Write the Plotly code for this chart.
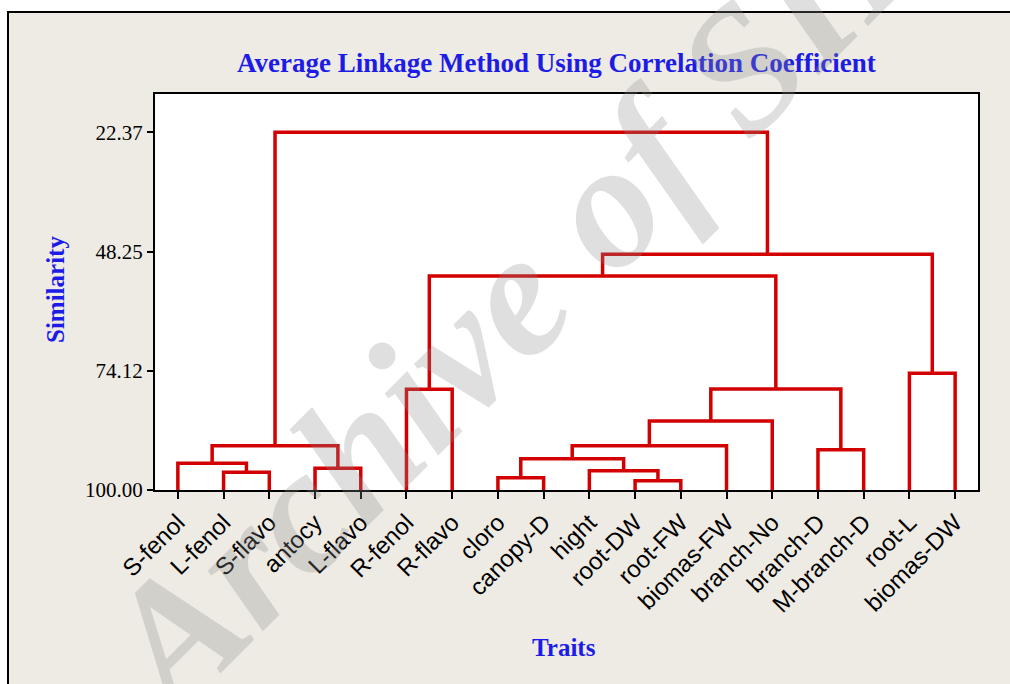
import plotly.graph_objects as go

# ---------------- data ----------------
leaf_labels = ["S-fenol", "L-fenol", "S-flavo", "antocy", "L-flavo", "R-fenol",
               "R-flavo", "cloro", "canopy-D", "hight", "root-DW", "root-FW",
               "biomas-FW", "branch-No", "branch-D", "M-branch-D", "root-L", "biomas-DW"]
# merge steps: node ids 0..17 are leaves, 18.. are merged clusters (in order)
merge_a = [1, 0, 3, 19, 5, 10, 9, 7, 25, 26, 27, 14, 28, 22, 16, 31, 21]
merge_b = [2, 18, 4, 20, 6, 11, 23, 8, 24, 12, 13, 15, 29, 30, 17, 32, 33]
merge_sim = [96.15, 94.20, 95.29, 90.38, 78.14, 97.98, 95.81, 97.33, 93.20,
             90.38, 85.02, 91.25, 78.10, 53.56, 74.67, 48.85, 22.37]
leaf_sim = 100.0
y_ticks = [22.37, 48.25, 74.12, 100.00]
y_ticktext = ["22.37", "48.25", "74.12", "100.00"]

# ---------------- dendrogram geometry from linkage ----------------
n = len(leaf_labels)
node_x = {i: float(i) for i in range(n)}
node_y = {i: leaf_sim for i in range(n)}
xs, ys = [], []
for k, (a, b, h) in enumerate(zip(merge_a, merge_b, merge_sim)):
    node = n + k
    xa, xb = node_x[a], node_x[b]
    xs += [xa, xa, xb, xb, None]
    ys += [node_y[a], h, h, node_y[b], None]
    node_x[node] = (xa + xb) / 2
    node_y[node] = h

# ---------------- layout helpers ----------------
W, H = 1010, 684
L, R, T, B = 155, 978, 94, 490


def px(x):
    return (x - L) / (R - L)


def py(y):
    return (B - y) / (B - T)


BLUE = "#1c1ce6"
BEIGE = "#eeeae4"

fig = go.Figure()
fig.add_trace(go.Scatter(x=xs, y=ys, mode="lines",
                         line=dict(color="#d20000", width=3.5),
                         hoverinfo="skip", showlegend=False))

shapes = [
    dict(type="rect", xref="paper", yref="paper", layer="below",
         x0=px(8), x1=px(1030), y0=py(700), y1=py(12),
         fillcolor=BEIGE, line=dict(color="black", width=2)),
    dict(type="rect", xref="paper", yref="paper", layer="below",
         x0=0, x1=1, y0=0, y1=1, fillcolor="white", line=dict(width=0)),
]

annotations = [
    dict(text="<b>Average Linkage Method Using Correlation Coefficient</b>",
         xref="paper", yref="paper", x=px(556), y=py(63),
         xanchor="center", yanchor="middle", showarrow=False,
         font=dict(family="Liberation Serif", size=27, color=BLUE)),
    dict(text="<b>Traits</b>", xref="paper", yref="paper", x=px(564), y=py(647),
         xanchor="center", yanchor="middle", showarrow=False,
         font=dict(family="Liberation Serif", size=25, color=BLUE)),
    dict(text="<b>Similarity</b>", xref="paper", yref="paper", x=px(55), y=py(290),
         xanchor="center", yanchor="middle", showarrow=False, textangle=-90,
         font=dict(family="Liberation Serif", size=25, color=BLUE)),
    # watermark
    dict(text="Archive of SID", xref="paper", yref="paper",
         x=px(522), y=py(287), xanchor="center", yanchor="middle",
         showarrow=False, textangle=-45,
         font=dict(family="Liberation Serif, DejaVu Serif, serif", size=178,
                   style="italic", weight="bold",
                   color="rgba(140,140,140,0.28)")),
]

fig.update_layout(
    width=W, height=H,
    margin=dict(l=L, r=W - R, t=T, b=H - B, pad=0),
    paper_bgcolor="white", plot_bgcolor="rgba(0,0,0,0)",
    shapes=shapes, annotations=annotations, showlegend=False,
    xaxis=dict(range=[-0.5, n - 0.5], tickmode="array",
               tickvals=list(range(n)), ticktext=leaf_labels,
               tickangle=-45, ticks="outside", ticklen=7, tickwidth=2,
               tickcolor="black", showline=True, linecolor="black",
               linewidth=2, mirror=True, showgrid=False, zeroline=False,
               tickfont=dict(family="Liberation Sans", size=24, color="black")),
    yaxis=dict(range=[100, 14.06], tickmode="array", tickvals=y_ticks,
               ticktext=y_ticktext, ticks="outside", ticklen=6, tickwidth=2,
               tickcolor="black", showline=True, linecolor="black",
               linewidth=2, mirror=True, showgrid=False, zeroline=False,
               tickfont=dict(family="Liberation Serif", size=21, color="black")),
)

fig.write_html("out.html", config={"displayModeBar": False},
               post_script="document.body.style.margin='0';")
